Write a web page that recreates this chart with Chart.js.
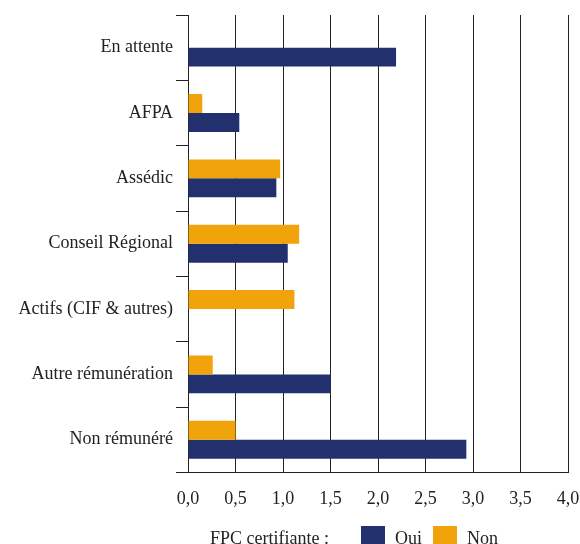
<!DOCTYPE html>
<html>
<head>
<meta charset="utf-8">
<script src="https://cdn.jsdelivr.net/npm/chart.js@4/dist/chart.umd.min.js"></script>
<style>
  html, body { margin: 0; padding: 0; background: #fff; }
  #wrap { position: relative; width: 580px; height: 544px; overflow: hidden; }
  #legend { position: absolute; left: 0; top: 526px; height: 30px; width: 580px;
            font-family: 'Liberation Serif'; font-size: 18px; color: #222; }
  #legend span { position: absolute; top: 2px; line-height: 20px; }
  #legend i { position: absolute; top: 0; width: 24px; height: 20px; }
</style>
</head>
<body>
<div id="wrap">
  <canvas id="chart" width="580" height="544"></canvas>
  <div id="legend">
    <span style="left:210px">FPC certifiante :</span>
    <i id="boxOui" style="left:361px"></i>
    <span style="left:395px">Oui</span>
    <i id="boxNon" style="left:433px"></i>
    <span style="left:467px">Non</span>
  </div>
</div>
<script>
const categories = ['En attente', 'AFPA', 'Assédic', 'Conseil Régional', 'Actifs (CIF & autres)', 'Autre rémunération', 'Non rémunéré'];
const nonValues = [null, 0.15, 0.97, 1.17, 1.12, 0.26, 0.5];
const ouiValues = [2.19, 0.54, 0.93, 1.05, null, 1.5, 2.93];
const xTicks = [0, 0.5, 1, 1.5, 2, 2.5, 3, 3.5, 4];

const NAVY = '#22306e';
const ORANGE = '#f0a30a';
const FONT = "'Liberation Serif'";

Chart.defaults.font.family = FONT;

document.getElementById('boxOui').style.background = NAVY;
document.getElementById('boxNon').style.background = ORANGE;

new Chart(document.getElementById('chart'), {
  type: 'bar',
  data: {
    labels: categories,
    datasets: [
      { label: 'Non', data: nonValues, backgroundColor: ORANGE },
      { label: 'Oui', data: ouiValues, backgroundColor: NAVY }
    ]
  },
  options: {
    indexAxis: 'y',
    responsive: false,
    animation: false,
    datasets: { bar: { categoryPercentage: 0.58, barPercentage: 1.0 } },
    layout: { padding: { top: 15, right: 1, left: 10, bottom: 18 } },
    scales: {
      x: {
        min: 0, max: 4,
        afterBuildTicks: (s) => { s.ticks = xTicks.map(v => ({ value: v })); },
        afterFit: (s) => { s.paddingRight = 12; },
        ticks: {
          font: { family: FONT, size: 18 }, color: '#222', padding: 16,
          maxRotation: 0,
          callback: (v) => Number(v).toFixed(1).replace('.', ',')
        },
        grid: { color: '#222', lineWidth: 1, drawTicks: false },
        border: { color: '#222', width: 1 }
      },
      y: {
        afterFit: (s) => { s.width = 178; },
        ticks: { font: { family: FONT, size: 18 }, color: '#222', padding: 3 },
        grid: { offset: true, drawOnChartArea: false, drawTicks: true, tickLength: 12, color: '#222' },
        border: { color: '#222', width: 1 }
      }
    },
    plugins: {
      legend: { display: false },
      tooltip: { enabled: false }
    }
  }
});
</script>
</body>
</html>
